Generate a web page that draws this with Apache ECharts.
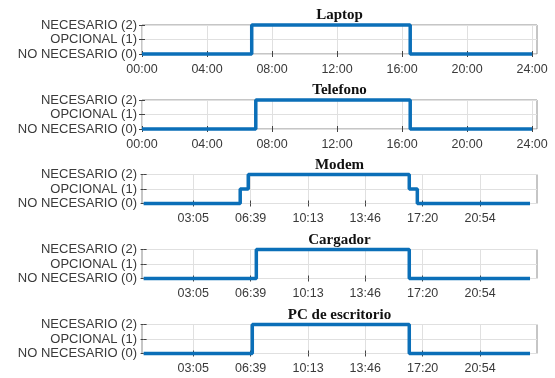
<!DOCTYPE html>
<html><head><meta charset="utf-8">
<script src="https://cdn.jsdelivr.net/npm/echarts@6/dist/echarts.min.js"></script>
<style>html,body{margin:0;padding:0;background:#fff}#c{width:555px;height:378px}</style>
</head><body><div id="c"></div>
<script>
// ---- data ----
const devices = ['Laptop', 'Telefono', 'Modem', 'Cargador', 'PC de escritorio'];
const laptopTimes = ['00:00', '06:45', '16:30', '24:00'];
const laptopStates = [0, 2, 0, 0];
const telefonoTimes = ['00:00', '07:00', '16:30', '24:00'];
const telefonoStates = [0, 2, 0, 0];
const modemTimes = ['00:00', '06:00', '06:30', '16:30', '17:00', '24:00'];
const modemStates = [0, 1, 2, 1, 0, 0];
const cargadorTimes = ['00:00', '07:00', '16:30', '24:00'];
const cargadorStates = [0, 2, 0, 0];
const pcTimes = ['00:00', '06:45', '16:30', '24:00'];
const pcStates = [0, 2, 0, 0];
const levelLabels = ['NO NECESARIO (0)', 'OPCIONAL (1)', 'NECESARIO (2)'];
const topTickLabels = ['00:00', '04:00', '08:00', '12:00', '16:00', '20:00', '24:00'];
const bottomTickLabels = ['03:05', '06:39', '10:13', '13:46', '17:20', '20:54'];

// ---- build ----
const toMin = s => { const p = s.split(':'); return (+p[0]) * 60 + (+p[1]); };
const allTimes = [laptopTimes, telefonoTimes, modemTimes, cargadorTimes, pcTimes];
const allStates = [laptopStates, telefonoStates, modemStates, cargadorStates, pcStates];
const tickSets = [topTickLabels, topTickLabels, bottomTickLabels, bottomTickLabels, bottomTickLabels];
const ranges = [[0, 1458], [0, 1458], [-6, 1466], [-6, 1466], [-6, 1466]];
const tops = [25, 100, 174.5, 249.5, 324.5];
const H = 29, L = 142, R = 18;
const lineColor = '#0b6fb8';
const txt = '#3a3a3a';

const grids = [], xAxes = [], yAxes = [], series = [], titles = [];
devices.forEach((name, i) => {
  grids.push({left: L, right: R, top: tops[i], height: H, show: true,
    borderColor: '#8c8c8c', borderWidth: 1, backgroundColor: '#fff'});
  const labs = tickSets[i];
  const vals = labs.map(toMin);
  const fmt = v => { const k = vals.indexOf(v); return k >= 0 ? labs[k] : ''; };
  xAxes.push({gridIndex: i, type: 'value', min: ranges[i][0], max: ranges[i][1], position: 'bottom',
    axisLine: {show: false},
    axisTick: {show: true, inside: true, length: 3, customValues: vals, lineStyle: {color: '#444'}},
    axisLabel: {show: true, customValues: vals, formatter: fmt, margin: 9,
      fontFamily: 'Liberation Sans', fontSize: 12.5, color: txt},
    splitLine: {show: true, lineStyle: {color: '#e0e0e0', width: 1}}
  });
  xAxes.push({gridIndex: i, type: 'value', min: ranges[i][0], max: ranges[i][1], position: 'top',
    axisLine: {show: false},
    axisTick: {show: true, inside: true, length: 3, customValues: vals, lineStyle: {color: '#444'}},
    axisLabel: {show: false}, splitLine: {show: false}
  });
  yAxes.push({gridIndex: i, type: 'value', min: 0, max: 2, interval: 1, position: 'left',
    axisLine: {show: false},
    axisTick: {show: true, inside: true, length: 3, lineStyle: {color: '#444'}},
    axisLabel: {formatter: v => levelLabels[v], margin: 5, fontFamily: 'Liberation Sans',
      fontSize: 13, color: txt},
    splitLine: {show: true, lineStyle: {color: '#e0e0e0'}}
  });
  yAxes.push({gridIndex: i, type: 'value', min: 0, max: 2, interval: 1, position: 'right',
    axisLine: {show: false},
    axisTick: {show: true, inside: true, length: 3, lineStyle: {color: '#444'}},
    axisLabel: {show: false}, splitLine: {show: false}
  });
  series.push({type: 'line', name: name, xAxisIndex: 2 * i, yAxisIndex: 2 * i,
    step: 'end', symbol: 'none', clip: false, z: 5,
    lineStyle: {width: 3.5, color: lineColor},
    data: allTimes[i].map((t, k) => [toMin(t), allStates[i][k]])
  });
  titles.push({text: name, left: L + (555 - L - R) / 2, top: tops[i] - 17, textAlign: 'center', padding: 0,
    textStyle: {fontFamily: 'Liberation Serif', fontWeight: 'bold', fontSize: 15, color: '#111'}});
});

const chart = echarts.init(document.getElementById('c'), null, {renderer: 'canvas'});
chart.setOption({animation: false, backgroundColor: '#fff', title: titles, grid: grids,
  xAxis: xAxes, yAxis: yAxes, series: series});
</script>
</body></html>
